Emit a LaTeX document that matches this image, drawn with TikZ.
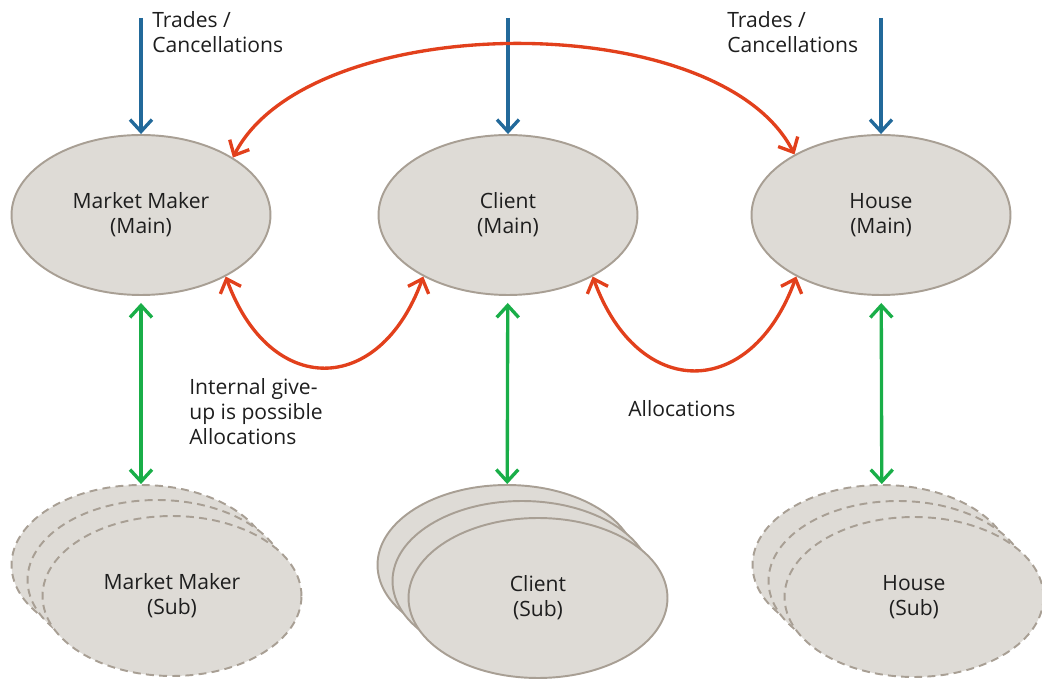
\documentclass[tikz,border=0pt]{standalone}
\usepackage{fontspec}
\setmainfont{Open Sans}
\usetikzlibrary{arrows.meta,shapes.geometric}
\definecolor{ovalfill}{HTML}{DEDBD6}
\definecolor{rim}{HTML}{A89F94}
\definecolor{trade}{HTML}{22699A}
\definecolor{alloc}{HTML}{E2401C}
\definecolor{link}{HTML}{19AE48}
\definecolor{txt}{HTML}{1E1E1E}

\begin{document}
\begin{tikzpicture}[x=0.02cm,y=0.02cm,
    >={Straight Barb[length=2.4mm,width=4.4mm]},
    every node/.style={font=\fontsize{12}{14.2}\selectfont,text=txt},
    oval/.style={ellipse,draw=rim,fill=ovalfill,line width=1.1pt,
      minimum width=5.18cm,minimum height=3.2cm,inner sep=0pt,align=center},
    ghost/.style={oval,dash pattern=on 4.5pt off 3pt},
    note/.style={align=left,inner sep=0pt,anchor=west},
    feed/.style={->,line width=1.9pt,draw=trade},
    alloc/.style={<->,line width=1.9pt,draw=alloc},
    link/.style={<->,line width=1.9pt,draw=link}]
            \useasboundingbox (0,0) rectangle (1042,680);

            % main accounts
            \node[oval] (mm) at (141,465) {Market Maker\\(Main)};
            \node[oval] (cl) at (508,465) {Client\\(Main)};
            \node[oval] (ho) at (881,465) {House\\(Main)};

            % sub accounts, back to front
            \node[ghost] (mmsubc) at (141,115) {};
            \node[ghost] (mmsubb) at (157,100) {};
            \node[ghost] (mmsub) at (172,84) {Market Maker\\(Sub)};

            \node[oval] (clsubc) at (507,115) {};
            \node[oval] (clsubb) at (522,99) {};
            \node[oval] (clsub) at (538,82) {Client\\(Sub)};

            \node[ghost] (hosubc) at (882,115) {};
            \node[ghost] (hosubb) at (898,99) {};
            \node[ghost] (hosub) at (914,83) {House\\(Sub)};

            % incoming trades
            \coordinate (mmin) at (141,662);
            \coordinate (clin) at (508,662);
            \coordinate (hoin) at (881,662);
            \draw[feed] (mmin) -- (mm);
            \draw[feed] (clin) -- (cl);
            \draw[feed] (hoin) -- (ho);
            \node[note] (mmtrade) at (152,648) {Trades /\\Cancellations};
            \node[note] (hotrade) at (727,648) {Trades /\\Cancellations};

            % allocations
            \draw[alloc] (mm.32) to[out=63,in=117,looseness=0.76] (ho.145);
            \draw[alloc] (mm.-36) to[out=-70,in=-110,looseness=1.67] (cl.-144);
            \draw[alloc] (cl.-36) to[out=-70,in=-110,looseness=1.67] (ho.-144);
            \node[note] (giveup) at (189,268) {Internal give-\\up is possible\\Allocations};
            \node[note] (allocs) at (628,271) {Allocations};

            % main <-> sub
            \draw[link,shorten <=4pt] (mm) -- (mmsubc);
            \draw[link,shorten <=4pt] (cl) -- (clsubc);
            \draw[link,shorten <=4pt] (ho) -- (hosubc);
        \end{tikzpicture}
\end{document}
